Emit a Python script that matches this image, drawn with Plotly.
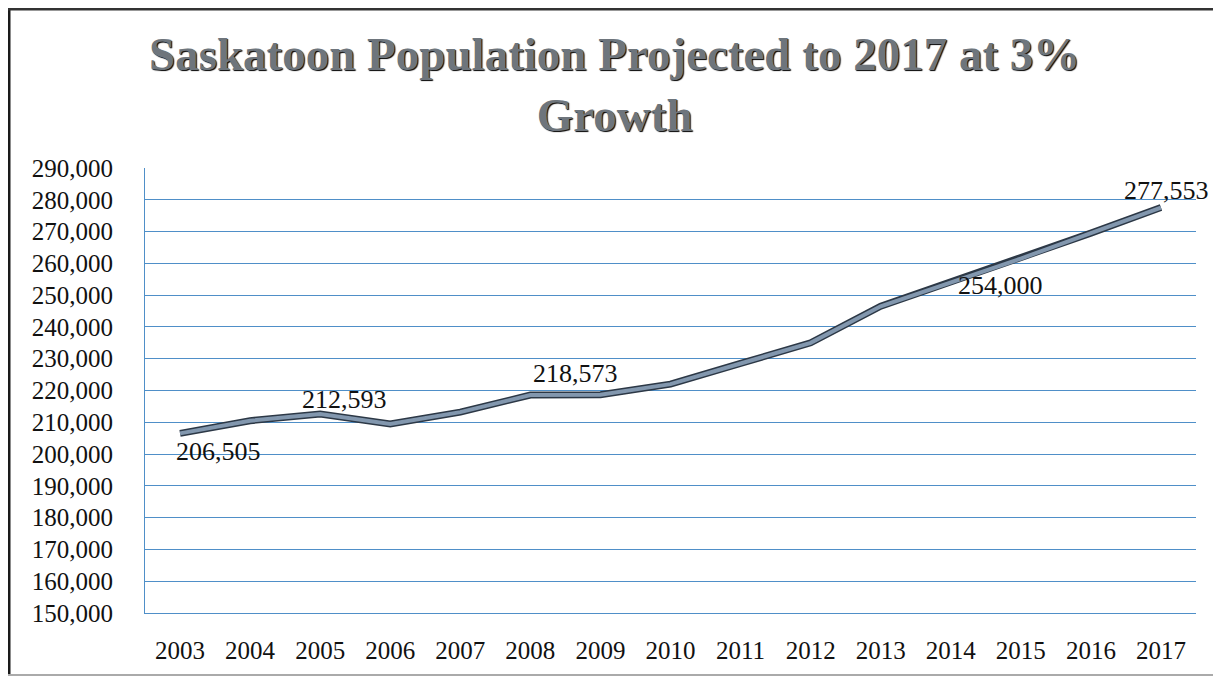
import plotly.graph_objects as go

years = ["2003", "2004", "2005", "2006", "2007", "2008", "2009", "2010",
         "2011", "2012", "2013", "2014", "2015", "2016", "2017"]
population = [206505, 210500, 212593, 209500, 213200, 218573, 218700, 222000,
              228500, 235000, 246500, 254000, 261500, 269500, 277553]

label_years = ["2003", "2005", "2008", "2014", "2017"]
label_texts = ["206,505", "212,593", "218,573", "254,000", "277,553"]
label_shift = [(38, -18), (24, 15), (45, 22), (50, -3), (6, 17)]

tick_vals = list(range(150000, 290001, 10000))
tick_text = [f"{v:,}" for v in tick_vals]

title_text = "Saskatoon Population Projected to 2017 at 3%<br>Growth"

SERIF = "Liberation Serif, Times New Roman, serif"

# page body has an 8px margin: build the figure in page coordinates minus 8
OFF = 8
W, H = 1221 - OFF, 677 - OFF
ml, mr, mt, mb = 145 - OFF, 25, 168 - OFF, 64
pw, ph = W - ml - mr, H - mt - mb


def px(x):
    return (x - ml) / pw


def py(y):
    return (H - mb - y) / ph


fig = go.Figure()
fig.add_trace(go.Scatter(x=years, y=population, mode="lines",
                         line=dict(color="#2c3846", width=7), hoverinfo="skip",
                         showlegend=False))
fig.add_trace(go.Scatter(x=years, y=population, mode="lines",
                         line=dict(color="#8297ae", width=4),
                         showlegend=False))

for yr, txt, (dx, dy) in zip(label_years, label_texts, label_shift):
    i = years.index(yr)
    fig.add_annotation(x=i, y=population[i], xref="x", yref="y", text=txt,
                       showarrow=False, xshift=dx, yshift=dy,
                       font=dict(family=SERIF, size=26, color="#111111"))

# two-line title (page y of block centre)
fig.add_annotation(x=px(W / 2), y=py(85 - OFF), xref="paper", yref="paper",
                   text=title_text, showarrow=False, xanchor="center", yanchor="middle",
                   align="center",
                   font=dict(family=SERIF, size=47, color="#6e757c", weight="bold",
                             shadow="1px 1px 1px #000"))

# frame
fig.add_shape(type="line", xref="paper", yref="paper", x0=px(1), x1=px(1), y0=py(0), y1=py(667),
              line=dict(color="#1a1a1a", width=3))
fig.add_shape(type="line", xref="paper", yref="paper", x0=px(0), x1=px(1211), y0=py(1), y1=py(1),
              line=dict(color="#333333", width=3))
fig.add_shape(type="line", xref="paper", yref="paper", x0=px(1211), x1=px(1211), y0=py(0), y1=py(667),
              line=dict(color="#666666", width=2))
fig.add_shape(type="line", xref="paper", yref="paper", x0=px(0), x1=px(1211), y0=py(667), y1=py(667),
              line=dict(color="#aaaaaa", width=2))

fig.update_layout(
    width=W, height=H,
    margin=dict(l=ml, r=mr, t=mt, b=mb, pad=0),
    paper_bgcolor="white", plot_bgcolor="white",
    xaxis=dict(type="category", range=[-0.5, 14.5], showgrid=False,
               showline=True, linecolor="#4f8fc8", linewidth=1,
               ticks="", tickfont=dict(family=SERIF, size=25, color="#111111"),
               ticklabelstandoff=15, fixedrange=True),
    yaxis=dict(range=[150000, 290000], tickvals=tick_vals, ticktext=tick_text,
               showgrid=True, gridcolor="#4f8fc8", gridwidth=1,
               showline=True, linecolor="#4f8fc8", linewidth=1, zeroline=False,
               ticks="", tickfont=dict(family=SERIF, size=25, color="#111111"),
               ticklabelstandoff=26, fixedrange=True),
)

fig.write_html("out.html")
